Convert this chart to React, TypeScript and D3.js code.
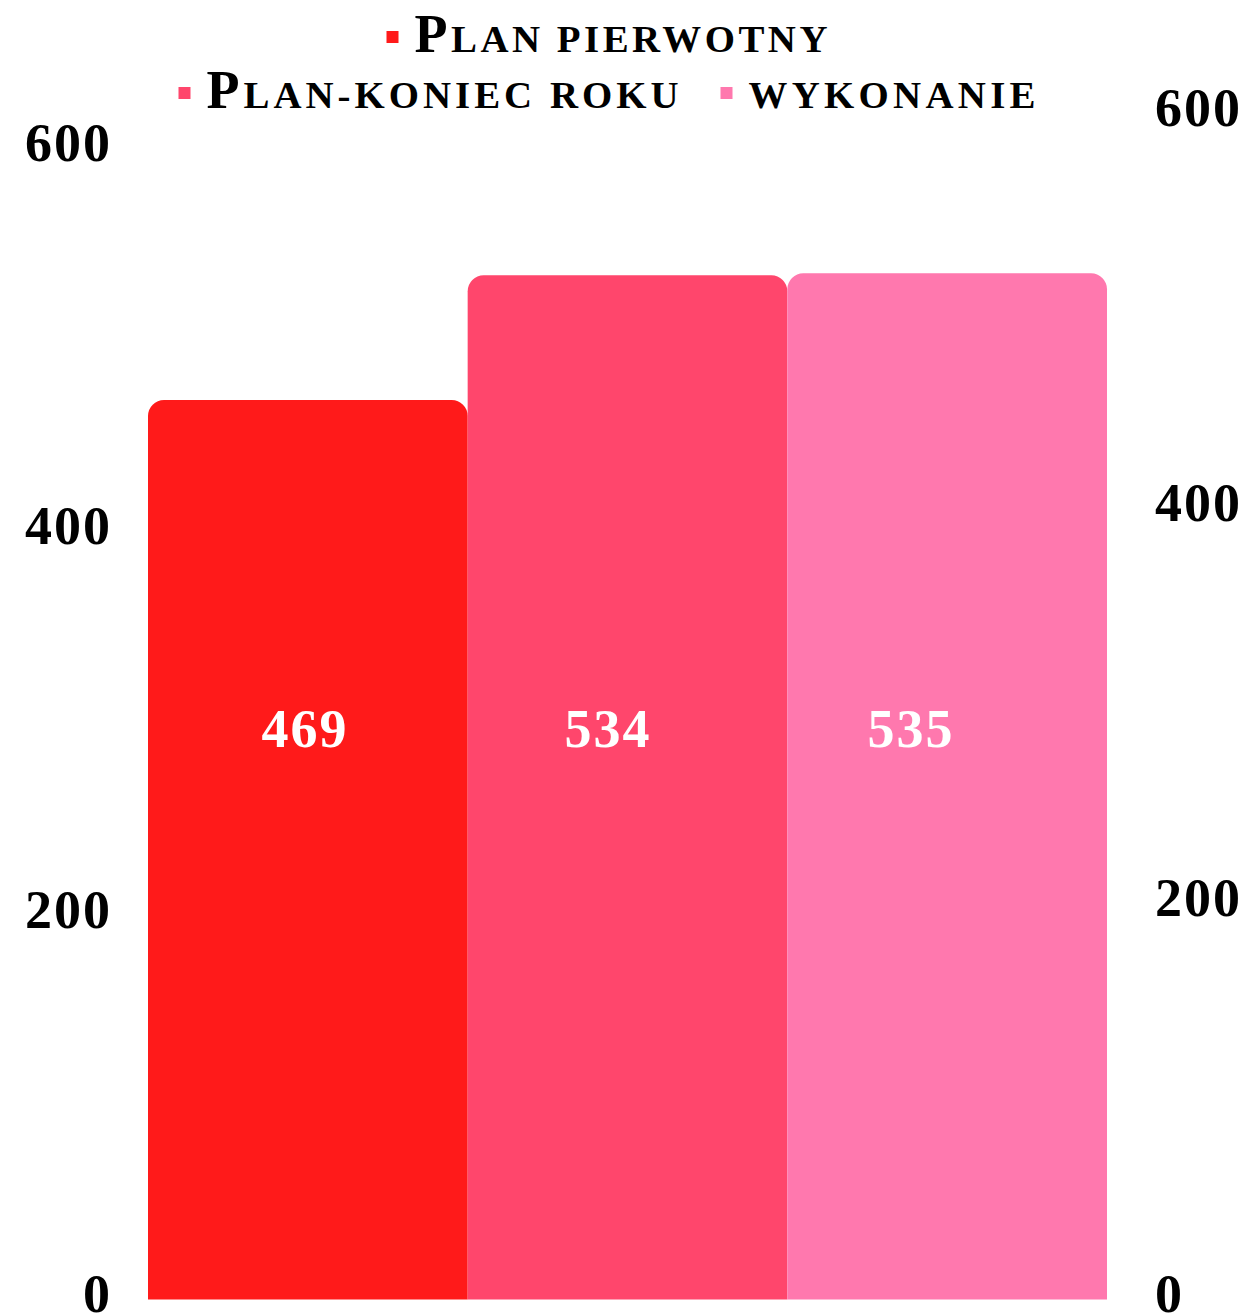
import * as d3 from 'd3'

const categories = ['Plan pierwotny', 'Plan-koniec roku', 'wykonanie']
const values = [469, 534, 535]
const colors = ['#FF1A1A', '#FF466C', '#FF78AE']
const leftTicks = [0, 200, 400, 600]
const rightTicks = [0, 200, 400, 600]

const W = 1249
const H = 1314
const FONT = '"Liberation Serif", "Times New Roman", serif'

// legend rows: which categories sit on each row, and the text widths in the reference
const legendRows = [[0], [1, 2]]
const legendWidths = [413, 472, 287]

function topRoundedBar(x: number, y: number, w: number, h: number, r: number) {
  const p = d3.path()
  p.moveTo(x, y + h)
  p.lineTo(x, y + r)
  p.arcTo(x, y, x + r, y, r)
  p.lineTo(x + w - r, y)
  p.arcTo(x + w, y, x + w, y + r, r)
  p.lineTo(x + w, y + h)
  p.closePath()
  return p.toString()
}

// hand-made small caps: capitals stay full size, lowercase become smaller capitals
function smallCaps(label: string, size: number) {
  const runs: { big: boolean; text: string }[] = []
  for (const ch of label) {
    const big = ch !== ch.toLowerCase()
    const last = runs[runs.length - 1]
    if (last && last.big === big) last.text += ch
    else runs.push({ big, text: ch })
  }
  return runs.map((r, i) => (
    <tspan key={i} fontSize={r.big ? size : size * 0.72}>
      {r.text.toUpperCase()}
    </tspan>
  ))
}

export default function App() {
  const plotLeft = 148
  const plotRight = 1107
  const base = 1299.5

  const x = d3.scaleBand<string>().domain(categories).range([plotLeft, plotRight]).padding(0)
  // value labels sit on their own, slightly narrower grid
  const xLabel = d3.scalePoint<string>().domain(categories).range([305, 911])
  const yLeft = d3.scaleLinear().domain([0, 600]).range([base, 148.7])
  const yRight = d3.scaleLinear().domain([0, 600]).range([base, 114])

  const labelY = 747

  // legend layout
  const markerSize = 12
  const markerGap = 16
  const itemGap = 42
  const legendCenter = 607
  const rowBaselines = [52, 108]

  return (
    <svg width={W} height={H} style={{ position: 'absolute', left: 0, top: 0, background: '#fff' }} fontFamily={FONT}>
      {/* legend */}
      {legendRows.map((row, ri) => {
        const itemWidths = row.map((i) => markerSize + markerGap + legendWidths[i])
        const total = d3.sum(itemWidths) + itemGap * (row.length - 1)
        let cx = legendCenter - total / 2
        return row.map((i, k) => {
          const startX = cx
          cx += itemWidths[k] + itemGap
          const bl = rowBaselines[ri]
          return (
            <g key={`${ri}-${i}`}>
              <rect x={startX} y={bl - 21} width={markerSize} height={markerSize} fill={colors[i]} />
              <text
                x={startX + markerSize + markerGap}
                y={bl}
                fontSize={54}
                fontWeight="bold"
                textLength={legendWidths[i]}
                fill="#000"
              >
                {smallCaps(categories[i], 54)}
              </text>
            </g>
          )
        })
      })}

      {/* bars */}
      {categories.map((c, i) => {
        const bx = x(c) ?? 0
        const bw = x.bandwidth()
        const top = yLeft(values[i])
        return (
          <path key={c} d={topRoundedBar(bx, top, bw, base - top, 16)} fill={colors[i]} />
        )
      })}

      {/* data labels */}
      {categories.map((c, i) => (
        <text
          key={`l-${c}`}
          x={xLabel(c) ?? 0}
          y={labelY}
          textAnchor="middle"
          fontSize={54}
          letterSpacing={2}
          fontWeight="bold"
          fill="#fff"
        >
          {values[i]}
        </text>
      ))}

      {/* left axis */}
      {leftTicks.map((t) => (
        <text key={`la-${t}`} x={112} y={yLeft(t) + 12} textAnchor="end" fontSize={54} letterSpacing={2} fontWeight="bold" fill="#000">
          {t}
        </text>
      ))}

      {/* right axis */}
      {rightTicks.map((t) => (
        <text key={`ra-${t}`} x={1155} y={yRight(t) + 12} textAnchor="start" fontSize={54} letterSpacing={2} fontWeight="bold" fill="#000">
          {t}
        </text>
      ))}
    </svg>
  )
}
